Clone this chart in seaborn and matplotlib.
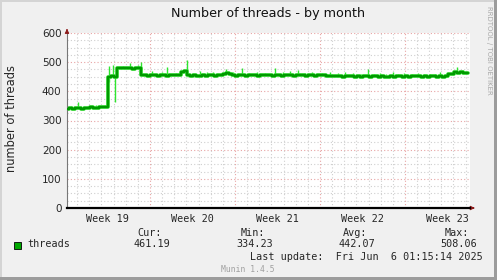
import numpy as np
import pandas as pd
import matplotlib
matplotlib.use("Agg")
import matplotlib.pyplot as plt
import seaborn as sns
from matplotlib.patches import Rectangle

sns.set_style("white")
plt.rcParams['font.family'] = ['DejaVu Sans']

# ---- data (6-hour samples, day 0 = left edge of plot) ----
step_days = 0.25
threads = [
    341, 343, 340, 342, 344, 341, 343, 342, 345, 343, 344, 346, 345, 348,
    448, 452, 450, 480,
    480, 479, 481, 480, 478, 481, 479, 456,
    455, 454, 456, 455, 453, 455, 456, 454, 455, 456, 455, 457,
    468, 470, 455,
    454, 455, 453, 454, 455, 454, 456, 455, 454, 455, 456, 458, 462, 458,
    455, 454, 456, 455, 454, 455, 456, 455, 454, 456, 455, 457, 455, 454,
    456, 455, 454, 455, 456, 455, 454, 455, 456, 455, 454, 456, 455, 454,
    455, 456, 455, 453, 452, 451, 452, 451, 450, 451, 452, 451, 450,
    451, 450, 452, 451, 450, 451, 452, 450, 451, 450, 449, 451, 450, 451,
    452, 450, 451, 450, 451, 452, 451, 450, 451, 450, 452, 451, 450, 451,
    450, 451,
    459, 460, 465, 464, 465, 464, 463,
]
spike_days = [0.9, 2.4, 3.46, 3.8, 3.95, 4.6, 5.19, 5.85, 6.1, 7.0, 7.8, 8.24,
              9.0, 9.88, 10.96, 11.5, 12.0, 13.1, 13.7, 14.4, 15.0, 15.65, 16.3,
              17.1, 17.8, 18.4, 19.0, 19.6, 20.2, 21.0, 21.7, 22.3, 22.9, 23.6,
              24.2, 24.8, 25.3, 25.8, 26.3, 26.85, 27.3, 27.8, 28.4, 28.9, 29.4,
              29.9, 30.3, 30.7, 31.2, 32.1, 32.6]
spike_vals = [364, 352, 487, 490, 364, 488, 496, 492, 499, 470, 466, 484,
              463, 508, 470, 465, 468, 477, 466, 479, 464, 468, 463,
              479, 465, 470, 473, 464, 466, 462, 468, 463, 465, 462,
              461, 475, 460, 463, 459, 467, 460, 462, 459, 464, 459,
              461, 458, 465, 459, 482, 472]

week_labels = ["Week 19", "Week 20", "Week 21", "Week 22", "Week 23"]
first_week_boundary = 6.84
x_max = 33.2
legend_name = "threads"
stats = {"Cur:": "461.19", "Min:": "334.23", "Avg:": "442.07", "Max:": "508.06"}
last_update = "Last update:  Fri Jun  6 01:15:14 2025"

days = np.arange(len(threads)) * step_days
df = pd.DataFrame({"day": days, "threads": threads})

W, H = 497, 280
fig = plt.figure(figsize=(W / 100, H / 100), dpi=100, facecolor="#f0f0f0")
ax = fig.add_axes([67 / W, 72 / H, 403 / W, 175 / H])
ax.set_facecolor("white")
ax.set_xlim(0, x_max)
ax.set_ylim(0, 600)

# grid
grey = "#cfcfcf"
red = "#e8a4a4"
for y in np.arange(25, 600.1, 25):
    ax.axhline(y, color=red if y % 100 == 0 else grey, lw=0.8, ls=(0, (1, 2)), zorder=0)
d = first_week_boundary - 6
while d < x_max:
    k = (d - first_week_boundary) / 7
    is_week = abs(k - round(k)) < 1e-6
    ax.axvline(d, color=red if is_week else grey, lw=0.8, ls=(0, (1, 2)), zorder=0)
    d += 1

# data
spike_base = np.interp(spike_days, days, threads)
ax.vlines(spike_days, spike_base, spike_vals, color="#2ee62e", lw=1.0, zorder=2)
sns.lineplot(data=df, x="day", y="threads", ax=ax, color="#33dd33", lw=2.6,
             drawstyle="steps-mid", zorder=2)
sns.lineplot(data=df, x="day", y="threads", ax=ax, color="#009a00", lw=1.7,
             drawstyle="steps-mid", zorder=3)

# axes
for s in ["top", "right"]:
    ax.spines[s].set_visible(False)
ax.spines["left"].set_color("#777777")
ax.spines["left"].set_linewidth(0.8)
ax.spines["bottom"].set_color("black")
ax.spines["bottom"].set_linewidth(1.6)
ax.spines["bottom"].set_zorder(5)
ax.annotate("", xy=(0, 1.04), xytext=(0, 1.0), xycoords="axes fraction",
            arrowprops=dict(arrowstyle="-|>", color="#8b1a1a", lw=0.8, mutation_scale=6))
ax.annotate("", xy=(1.012, 0), xytext=(1.0, 0), xycoords="axes fraction",
            arrowprops=dict(arrowstyle="-|>", color="#8b1a1a", lw=0.8, mutation_scale=6))

ax.set_yticks(np.arange(0, 601, 100))
ax.set_yticklabels([str(v) for v in range(0, 601, 100)], fontsize=7.5)
ax.tick_params(axis="y", length=2, width=0.6, color="#777777", pad=2)
centers = [first_week_boundary - 3.5 + 7 * i for i in range(len(week_labels))]
ax.set_xticks(centers)
ax.set_xticklabels(week_labels, fontsize=7.3, family="DejaVu Sans Mono")
ax.tick_params(axis="x", length=0, pad=4)
ax.set_xlabel("")
ax.set_ylabel("")
fig.text(12 / W, 1 - 118 / H, "number of threads", rotation=90, ha="center", va="center",
         fontsize=8.3)

fig.text(268 / W, 1 - 13 / H, "Number of threads - by month", ha="center", va="center",
         fontsize=9.2, color="#111111")
fig.text(489 / W, 1 - 50 / H, "RRDTOOL / TOBI OETIKER", rotation=270, ha="center",
         va="center", fontsize=5.0, color="#a8a8a8")

mono = "DejaVu Sans Mono"
fig.add_artist(Rectangle((13.5 / W, 1 - 248.5 / H), 7 / W, 7 / H, transform=fig.transFigure,
                         facecolor="#00a800", edgecolor="black", lw=0.6))
fig.text(27 / W, 1 - 244 / H, legend_name, ha="left", va="center", fontsize=7.3, family=mono)
stat_right = [162, 265, 367, 469]
val_right = [170, 273, 375, 477]
for (k, v), xr, vr in zip(stats.items(), stat_right, val_right):
    fig.text(xr / W, 1 - 233 / H, k, ha="right", va="center", fontsize=7.3, family=mono)
    fig.text(vr / W, 1 - 244 / H, v, ha="right", va="center", fontsize=7.3, family=mono)
fig.text(483 / W, 1 - 257 / H, last_update, ha="right", va="center", fontsize=7.3, family=mono)
fig.text(248 / W, 1 - 269 / H, "Munin 1.4.5", ha="center", va="center", fontsize=5.8,
         family=mono, color="#a0a0a0")

# 3D border
fig.add_artist(Rectangle((0, 0), 2 / W, 1, transform=fig.transFigure, color="#d4d4d4", lw=0))
fig.add_artist(Rectangle((0, 1 - 2 / H), 1, 2 / H, transform=fig.transFigure, color="#d4d4d4", lw=0))
fig.add_artist(Rectangle((1 - 3 / W, 0), 3 / W, 1, transform=fig.transFigure, color="#9c9c9c", lw=0))
fig.add_artist(Rectangle((0, 0), 1, 3 / H, transform=fig.transFigure, color="#9c9c9c", lw=0))

fig.savefig("out.png", dpi=100, facecolor=fig.get_facecolor())
